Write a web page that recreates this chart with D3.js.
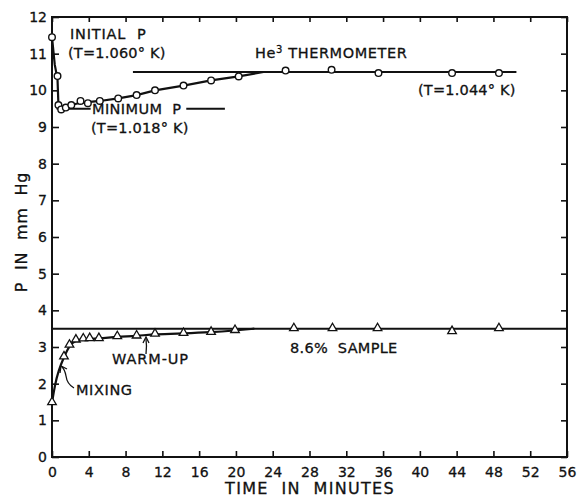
<!DOCTYPE html>
<html>
<head>
<meta charset="utf-8">
<script src="https://cdn.jsdelivr.net/npm/d3@7"></script>
<style>
  body { margin: 0; background: #fff; }
  svg text { font-family: "DejaVu Sans", sans-serif; fill: #111; white-space: pre; }
</style>
</head>
<body>
<svg width="578" height="501"></svg>
<script>
// He3 thermometer readings (circles): time in minutes, P in mm Hg
var heTime = [0, 0.6, 0.7, 1.0, 1.5, 2.1, 3.1, 3.9, 5.2, 7.2, 9.2, 11.2, 14.3, 17.3, 20.3, 25.4, 30.4, 35.5, 43.5, 48.6];
var heP    = [11.45, 10.39, 9.6, 9.48, 9.53, 9.6, 9.71, 9.65, 9.71, 9.78, 9.87, 10.0, 10.13, 10.27, 10.38, 10.54, 10.56, 10.47, 10.47, 10.47];
// curve drawn through the early He3 points, joining the plateau
var heCurveTime = [0, 0.3, 0.6, 0.7, 1.0, 1.5, 2.1, 3.1, 5.2, 7.2, 9.2, 11.2, 14.3, 17.3, 20.3, 23];
var heCurveP    = [11.45, 10.7, 10.3, 9.6, 9.5, 9.53, 9.6, 9.66, 9.71, 9.78, 9.87, 10.0, 10.13, 10.27, 10.38, 10.5];

// 8.6% sample (triangles)
var sTime = [0, 1.3, 1.9, 2.6, 3.4, 4.1, 5.1, 7.1, 9.2, 11.2, 14.3, 17.3, 19.9, 26.3, 30.5, 35.4, 43.5, 48.6];
var sP    = [1.48, 2.73, 3.05, 3.19, 3.22, 3.23, 3.23, 3.28, 3.30, 3.35, 3.37, 3.40, 3.45, 3.5, 3.5, 3.5, 3.42, 3.5];
var sCurveTime = [0, 0.3, 0.7, 1.3, 1.9, 2.6, 3.4, 5.1, 7.1, 9.2, 11.2, 14.3, 17.3, 19.9, 22];
var sCurveP    = [1.48, 1.95, 2.35, 2.73, 3.05, 3.19, 3.22, 3.23, 3.28, 3.30, 3.35, 3.37, 3.40, 3.45, 3.5];

// reference lines [from, to, level]
var refLines = [
  [8.8, 50.5, 10.5],   // He3 thermometer
  [0.5, 4.2, 9.5],     // minimum P, left of label
  [14.6, 18.8, 9.5],   // minimum P, right of label
  [0, 56, 3.5]         // 8.6% sample
];

var xTicks = d3.range(0, 57, 4);
var yTicks = d3.range(0, 13, 1);

var margin = { left: 52, right: 11, top: 17, bottom: 44 };
var W = 578, H = 501;
var svg = d3.select("svg");

var x = d3.scaleLinear().domain([0, 56]).range([margin.left, W - margin.right]);
var y = d3.scaleLinear().domain([0, 12]).range([H - margin.bottom, margin.top]);

// axes with inward ticks
var gBottom = svg.append("g").attr("transform", "translate(0," + y(0) + ")")
  .call(d3.axisBottom(x).tickValues(xTicks).tickSizeInner(-6).tickSizeOuter(0).tickPadding(10));
var gLeft = svg.append("g").attr("transform", "translate(" + x(0) + ",0)")
  .call(d3.axisLeft(y).tickValues(yTicks).tickSizeInner(-7).tickSizeOuter(0).tickPadding(5));
var gTop = svg.append("g").attr("transform", "translate(0," + y(12) + ")")
  .call(d3.axisTop(x).tickValues(xTicks).tickSizeInner(-5).tickSizeOuter(0).tickFormat(""));
var gRight = svg.append("g").attr("transform", "translate(" + x(56) + ",0)")
  .call(d3.axisRight(y).tickValues(yTicks).tickSizeInner(-6).tickSizeOuter(0).tickFormat(""));

[gBottom, gLeft, gTop, gRight].forEach(function(g) {
  g.select(".domain").remove();
  g.selectAll(".tick line").attr("stroke", "#111").attr("stroke-width", 1.6);
  g.selectAll(".tick text").attr("font-size", 14).attr("fill", "#111")
    .attr("stroke", "#111").attr("stroke-width", 0.3)
    .style("font-family", "DejaVu Sans, sans-serif");
});

svg.append("rect")
  .attr("x", x(0)).attr("y", y(12))
  .attr("width", x(56) - x(0)).attr("height", y(0) - y(12))
  .attr("fill", "none").attr("stroke", "#111").attr("stroke-width", 2);

// horizontal reference lines
svg.append("g").selectAll("line")
  .data(refLines).enter().append("line")
  .attr("x1", d => x(d[0])).attr("x2", d => x(d[1]))
  .attr("y1", d => y(d[2])).attr("y2", d => y(d[2]))
  .attr("stroke", "#111").attr("stroke-width", 2);

svg.append("path")
  .attr("d", d3.line().x(d => x(d[0])).y(d => y(d[1])).curve(d3.curveLinear)(d3.zip(heCurveTime, heCurveP)))
  .attr("fill", "none").attr("stroke", "#111").attr("stroke-width", 2.2);

svg.append("path")
  .attr("d", d3.line().x(d => x(d[0])).y(d => y(d[1])).curve(d3.curveBasis)(d3.zip(sCurveTime, sCurveP)))
  .attr("fill", "none").attr("stroke", "#111").attr("stroke-width", 2.2);

// markers
svg.append("g").selectAll("circle")
  .data(d3.zip(heTime, heP)).enter().append("circle")
  .attr("cx", d => x(d[0])).attr("cy", d => y(d[1])).attr("r", 3.3)
  .attr("fill", "#fff").attr("stroke", "#111").attr("stroke-width", 1.4);

var tri = d3.symbol().type(d3.symbolTriangle).size(32);
svg.append("g").selectAll("path")
  .data(d3.zip(sTime, sP)).enter().append("path")
  .attr("d", tri)
  .attr("transform", d => "translate(" + x(d[0]) + "," + (y(d[1]) - 0.5) + ")")
  .attr("fill", "#fff").attr("stroke", "#111").attr("stroke-width", 1.3);

// annotations
function label(txt, px, py, spacing) {
  return svg.append("text").attr("x", px).attr("y", py)
    .attr("font-size", 14.5).attr("letter-spacing", spacing)
    .attr("stroke", "#111").attr("stroke-width", 0.3).text(txt);
}
label("INITIAL  P", 70, 39, 0.8);
label("(T=1.060° K)", 68, 58, 0.2);
var he = svg.append("text").attr("x", 255).attr("y", 58).attr("font-size", 14.5).attr("letter-spacing", 0.6)
  .attr("stroke", "#111").attr("stroke-width", 0.3);
he.append("tspan").text("He");
he.append("tspan").attr("dy", -5).attr("font-size", 10).text("3");
he.append("tspan").attr("dy", 5).text(" THERMOMETER");
label("(T=1.044° K)", 418, 95, 0.2);
label("MINIMUM  P", 92, 114, 0.4);
label("(T=1.018° K)", 91, 133, 0.2);
label("WARM-UP", 112, 364, 0.9);
label("MIXING", 76, 395, 0.6);
label("8.6%  SAMPLE", 290, 353, 0.3);

// arrows
svg.append("path").attr("d", "M146,354 Q147,346 146,339").attr("fill", "none").attr("stroke", "#111").attr("stroke-width", 1.3);
svg.append("path").attr("d", "M143,343 L146,337 L149,343").attr("fill", "none").attr("stroke", "#111").attr("stroke-width", 1.3);
svg.append("path").attr("d", "M74,388 Q67,384 66,376 Q65,370 62,367").attr("fill", "none").attr("stroke", "#111").attr("stroke-width", 1.3);
svg.append("path").attr("d", "M60,373 L61,366 L67,369").attr("fill", "none").attr("stroke", "#111").attr("stroke-width", 1.3);

// axis titles
svg.append("text").attr("x", 310).attr("y", 494).attr("text-anchor", "middle")
  .attr("font-size", 16).attr("letter-spacing", 1.3).attr("stroke", "#111").attr("stroke-width", 0.3)
  .text("TIME  IN  MINUTES");
svg.append("text").attr("transform", "translate(27,232) rotate(-90)").attr("text-anchor", "middle")
  .attr("font-size", 16).attr("letter-spacing", 0.8).attr("stroke", "#111").attr("stroke-width", 0.3)
  .text("P  IN  mm  Hg");
</script>
</body>
</html>
